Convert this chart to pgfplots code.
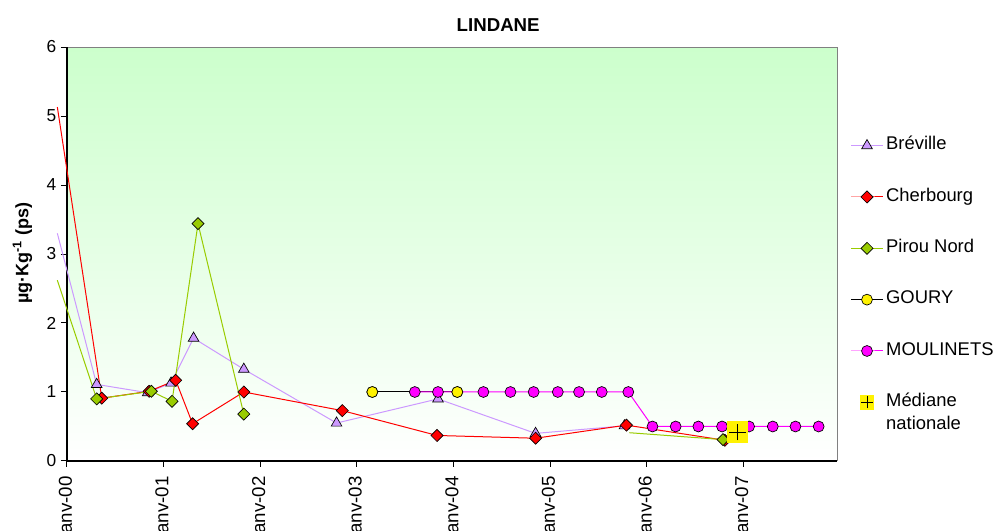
\documentclass[border=0pt]{standalone}
\usepackage{pgfplots}
\pgfplotsset{compat=1.18}
\usepackage{fontspec}
\setmainfont{Liberation Sans}
\definecolor{brev}{RGB}{204,153,255}
\definecolor{pirou}{RGB}{153,204,0}
\definecolor{bggreen}{RGB}{204,255,204}
\definecolor{borderg}{RGB}{128,128,128}
\definecolor{moul}{RGB}{255,0,255}

\pgfdeclareplotmark{sqplus}{%
  \pgfsetfillcolor{yellow}%
  \pgfpathrectanglecorners{\pgfpoint{-\pgfplotmarksize}{-\pgfplotmarksize}}{\pgfpoint{\pgfplotmarksize}{\pgfplotmarksize}}%
  \pgfusepathqfill
  \pgfsetstrokecolor{black}%
  \pgfsetlinewidth{0.7pt}%
  \pgfpathmoveto{\pgfpoint{-0.8\pgfplotmarksize}{0pt}}%
  \pgfpathlineto{\pgfpoint{0.8\pgfplotmarksize}{0pt}}%
  \pgfpathmoveto{\pgfpoint{0pt}{-0.8\pgfplotmarksize}}%
  \pgfpathlineto{\pgfpoint{0pt}{0.8\pgfplotmarksize}}%
  \pgfusepathqstroke
}
\pgfplotsset{medleg/.style={legend image code/.code={\draw[##1,mark size=5.6pt] plot coordinates {(12pt,0pt)};}}}

\begin{document}
\begin{tikzpicture}
\begin{axis}[
  at={(0,0)}, anchor=south west,
  scale only axis, width=577.5pt, height=310.5pt,
  xmin=0, xmax=7.97, ymin=0, ymax=6,
  axis x line*=bottom, axis y line*=left,
  axis line style={-, black, line width=1pt},
  axis background/.style={draw=borderg, line width=0.75pt, top color=bggreen, bottom color=white},
  xtick={0,1,2,3,4,5,6,7},
  xticklabels={janv-00,janv-01,janv-02,janv-03,janv-04,janv-05,janv-06,janv-07},
  ytick={0,1,2,3,4,5,6},
  tick align=outside, major tick length=4.5pt,
  tick style={black, line width=0.75pt},
  /pgf/number format/assume math mode=true,
  yticklabel style={font=\fontsize{13}{15}\selectfont},
  xticklabel style={font=\fontsize{14}{16}\selectfont, rotate=90, anchor=east, inner ysep=2pt, inner xsep=7pt},
  clip=false,
  title={LINDANE},
  title style={at={(axis description cs:0.56,1)}, anchor=base, yshift=6pt, font=\bfseries\fontsize{14}{16}\selectfont},
  ylabel={µg·Kg\textsuperscript{-1} (ps)},
  every axis y label/.style={at={(axis description cs:-0.058,0.502)}, rotate=90, anchor=center, font=\bfseries\fontsize{13.5}{15}\selectfont},
  legend cell align=left,
  legend image code/.code={\draw[mark repeat=2,mark phase=2,#1] plot coordinates {(0pt,0pt) (12pt,0pt) (24pt,0pt)};},
  legend style={at={(axis description cs:1.012,0.797)}, anchor=north west, draw=none, fill=none,
    font=\fontsize{13.8}{16}\selectfont, row sep=21pt,
    nodes={text height=10pt, text depth=3.5pt}},
  unbounded coords=jump,
]
\addplot[color=brev, line width=0.75pt, mark=triangle*, mark size=4.6pt, mark phase=2, mark repeat=1,
  mark options={draw=black, fill=brev, line width=0.5pt}]
  coordinates {(-0.1,3.3) (0.307,1.11) (0.835,0.99) (1.077,1.13) (1.31,1.78) (1.83,1.33) (2.79,0.55) (3.84,0.90) (4.85,0.40) (5.77,0.51)};
\addlegendentry{Bréville}
\addplot[color=red, line width=0.75pt, mark=square*, mark size=3.2pt, mark phase=2, mark repeat=1,
  mark options={rotate=45, draw=black, fill=red, line width=0.5pt}]
  coordinates {(-0.1,5.13) (0.36,0.91) (0.85,1.01) (1.125,1.17) (1.30,0.54) (1.83,1.0) (2.85,0.73) (3.83,0.37) (4.85,0.33) (5.79,0.52) (6.81,0.30)};
\addlegendentry{Cherbourg}
\addplot[color=pirou, line width=0.75pt, mark=square*, mark size=3.2pt, mark phase=2, mark repeat=1,
  mark options={rotate=45, draw=black, fill=pirou, line width=0.5pt}]
  coordinates {(-0.1,2.62) (0.307,0.90) (0.873,1.01) (1.087,0.865) (1.356,3.44) (1.83,0.68) (3.5,nan) (5.82,0.41) (6.79,0.31)};
\addlegendentry{Pirou Nord}
\addplot[color=black, line width=0.75pt, mark=*, mark size=4.1pt,
  mark options={draw=black, fill=yellow, line width=0.5pt}]
  coordinates {(3.16,1.0) (4.04,1.0)};
\addlegendentry{GOURY}
\addplot[color=moul, line width=0.75pt, mark=*, mark size=4.1pt,
  mark options={draw=black, fill=moul, line width=0.5pt}]
  coordinates {(3.60,1.0) (3.84,1.0) (4.31,1.0) (4.59,1.0) (4.83,1.0) (5.08,1.0) (5.30,1.0) (5.535,1.0) (5.81,1.0) (6.06,0.5) (6.30,0.5) (6.535,0.5) (6.78,0.5) (7.06,0.5) (7.305,0.5) (7.54,0.5) (7.78,0.5)};
\addlegendentry{MOULINETS}
\addplot[only marks, forget plot, mark=*, mark size=4.1pt,
  mark options={draw=black, fill=yellow, line width=0.5pt}]
  coordinates {(3.16,1.0) (4.04,1.0)};
\addplot[only marks, mark=sqplus, mark size=7.9pt, medleg]
  coordinates {(6.94,0.42)};
\addlegendentry{\vtop{\baselineskip=17.3pt\hbox{Médiane}\hbox{nationale}}}
\end{axis}
\pgfresetboundingbox
\path (-50.25pt,-52.5pt) rectangle (696.75pt,345.75pt);
\end{tikzpicture}
\end{document}
